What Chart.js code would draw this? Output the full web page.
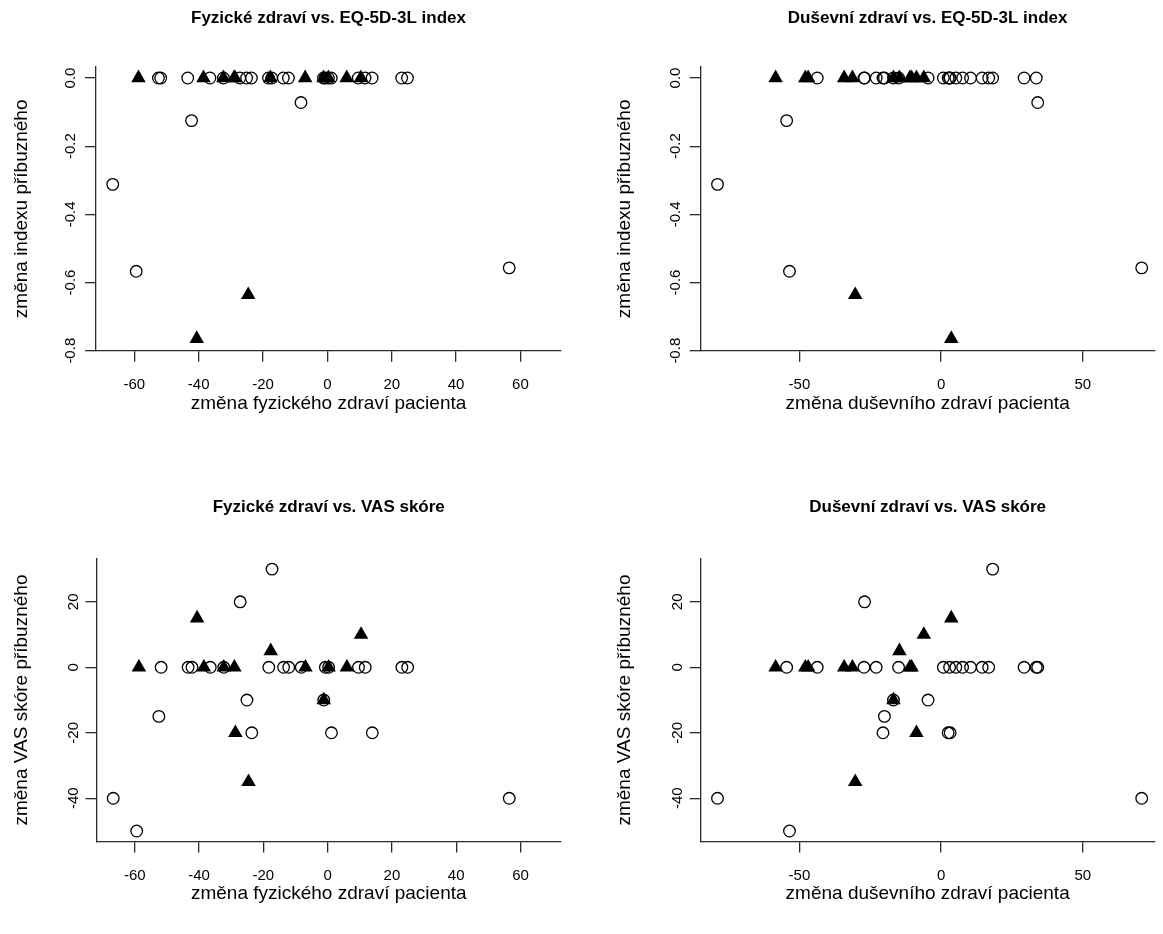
<!DOCTYPE html>
<html>
<head>
<meta charset="utf-8">
<script src="https://cdn.jsdelivr.net/npm/chart.js@4/dist/chart.umd.min.js"></script>
<style>
  html, body { margin: 0; padding: 0; background: #ffffff; }
  #page { position: relative; width: 1163px; height: 934px; overflow: hidden; background: #ffffff; }
  .panel { position: absolute; }
  canvas { display: block; }
</style>
</head>
<body>
<div id="page">
  <div class="panel" style="left:0px;top:0px;"><canvas id="p1" width="581" height="467"></canvas></div>
  <div class="panel" style="left:581px;top:0px;"><canvas id="p2" width="582" height="467"></canvas></div>
  <div class="panel" style="left:0px;top:467px;"><canvas id="p3" width="581" height="467"></canvas></div>
  <div class="panel" style="left:581px;top:467px;"><canvas id="p4" width="582" height="467"></canvas></div>
</div>
<script>
// Patients whose relative reported no treatment (open circles)
const circPhys   = [-66.7, -59.4, 56.5, -42.2, -8.2, -52.5, -27.2, -17.3, -25.1, -1.2, -23.6, 1.2, 13.9,
                    -51.8, -43.4, -36.5, -32.3, -18.3, -13.7, -12.1, -0.7, 0.3, 9.6, 11.7, 23.1, 24.9];
const circMental = [-78.9, -53.5, 70.8, -54.5, 34.1, -20.0, -27.0, 18.2, -16.8, -4.6, -20.5, 2.5, 3.2,
                    -43.7, -27.2, -22.9, -15.0, 0.8, 3.0, 5.2, 7.6, 10.4, 14.5, 16.8, 29.3, 33.6];
const circIndex  = [-0.312, -0.567, -0.557, -0.125, -0.072, 0, 0, 0, 0, 0, 0, 0, 0,
                    0, 0, 0, 0, 0, 0, 0, 0, 0, 0, 0, 0, 0];
const circVas    = [-40, -50, -40, 0, 0, -15, 20, 30, -10, -10, -20, -20, -20,
                    0, 0, 0, 0, 0, 0, 0, 0, 0, 0, 0, 0, 0];

// Second group (filled triangles)
const triPhys   = [-58.7, -40.6, -38.5, -32.3, -29.0, -28.7, -24.6, -17.7, -6.9, -1.2, 0.3, 6.0, 10.4];
const triMental = [-58.4, 3.6, -47.9, -46.9, -34.2, -8.7, -30.3, -14.7, -31.3, -16.8, -11.0, -10.4, -6.1];
const triIndex  = [0, -0.765, 0, 0, 0, 0, -0.636, 0, 0, 0, 0, 0, 0];
const triVas    = [0, 15, 0, 0, 0, -20, -35, 5, 0, -10, 0, 0, 10];

// Tick labels
const physTicks   = [-60, -40, -20, 0, 20, 40, 60];
const mentalTicks = [-50, 0, 50];
const indexTicks  = [-0.8, -0.6, -0.4, -0.2, 0.0];
const vasTicks    = [-40, -20, 0, 20];

// Texts
const panelTitles = [
  'Fyzické zdraví vs. EQ-5D-3L index',
  'Duševní zdraví vs. EQ-5D-3L index',
  'Fyzické zdraví vs. VAS skóre',
  'Duševní zdraví vs. VAS skóre'
];
const physLabel   = 'změna fyzického zdraví pacienta';
const mentalLabel = 'změna duševního zdraví pacienta';
const indexLabel  = 'změna indexu příbuzného';
const vasLabel    = 'změna VAS skóre příbuzného';

const FONT = "'Liberation Sans', Arial, Helvetica, sans-serif";
const INK = '#000000';
const AXIS = '#2b2b2b';

function points(xs, ys) {
  return xs.map((x, i) => ({ x: x, y: ys[i] }));
}

// box: plot-area edges inside the canvas; text: positions of the titles inside the canvas
function drawPanel(id, cfg) {
  const canvas = document.getElementById(id);
  const cw = canvas.width, ch = canvas.height;
  const titleSize = 17, labelSize = 19, tickSize = 15;
  const titleLH = titleSize * 1.2, labelLH = labelSize * 1.2;
  const tickLen = 11;
  const box = cfg.box;
  const yWidth = box.left;              // y-axis box fills the left margin
  const xHeight = ch - box.bottom;      // x-axis box fills the bottom margin
  const titleTop = cfg.titleY - titleLH / 2;

  new Chart(canvas, {
    type: 'scatter',
    data: {
      datasets: [
        {
          data: points(cfg.cx, cfg.cy),
          pointStyle: 'circle',
          pointRadius: 5.8,
          pointHoverRadius: 5.8,
          borderWidth: 1.3,
          borderColor: INK,
          backgroundColor: 'rgba(0,0,0,0)'
        },
        {
          data: points(cfg.tx, cfg.ty),
          pointStyle: 'triangle',
          pointRadius: 8.4,
          pointHoverRadius: 8.4,
          borderWidth: 0,
          borderColor: INK,
          backgroundColor: INK
        }
      ]
    },
    options: {
      responsive: false,
      animation: false,
      devicePixelRatio: 1,
      events: [],
      layout: { padding: { left: 0, top: 0, right: cw - box.right, bottom: 0 } },
      plugins: {
        legend: { display: false },
        tooltip: { enabled: false },
        title: {
          display: true,
          text: cfg.title,
          fullSize: false,
          color: INK,
          font: { family: FONT, size: titleSize, weight: 'bold' },
          padding: { top: titleTop, bottom: box.top - titleTop - titleLH }
        }
      },
      scales: {
        x: {
          type: 'linear',
          bounds: 'data',
          min: cfg.xMin,
          max: cfg.xMax,
          afterBuildTicks: s => { s.ticks = cfg.xTicks.map(v => ({ value: v })); },
          afterFit: s => { s.height = xHeight; },
          grid: { drawOnChartArea: false, drawTicks: true, tickLength: tickLen, color: AXIS, lineWidth: 1.3 },
          border: { display: true, color: AXIS, width: 1.3 },
          ticks: {
            color: INK,
            font: { family: FONT, size: tickSize },
            padding: cfg.xTickPad,
            maxRotation: 0,
            autoSkip: false,
            callback: v => String(v)
          },
          title: {
            display: true,
            text: cfg.xLabel,
            color: INK,
            font: { family: FONT, size: labelSize },
            padding: { top: 0, bottom: ch - cfg.xLabelY - labelLH / 2 }
          }
        },
        y: {
          type: 'linear',
          bounds: 'data',
          min: cfg.yMin,
          max: cfg.yMax,
          afterBuildTicks: s => { s.ticks = cfg.yTicks.map(v => ({ value: v })); },
          afterFit: s => { s.width = yWidth; },
          grid: { drawOnChartArea: false, drawTicks: true, tickLength: tickLen, color: AXIS, lineWidth: 1.3 },
          border: { display: true, color: AXIS, width: 1.3 },
          ticks: {
            color: INK,
            font: { family: FONT, size: tickSize },
            padding: cfg.yTickPad,
            minRotation: 90,
            maxRotation: 90,
            crossAlign: 'center',
            autoSkip: false,
            callback: cfg.yFormat
          },
          title: {
            display: true,
            text: cfg.yLabel,
            color: INK,
            font: { family: FONT, size: labelSize },
            padding: { top: cfg.yLabelX - labelLH / 2, bottom: 0 }
          }
        }
      }
    }
  });
}

const fmtIndex = v => Number(v).toFixed(1);
const fmtInt = v => String(v);

drawPanel('p1', {
  title: panelTitles[0], titleY: 18,
  box: { left: 96, right: 561, top: 67, bottom: 350.7 },
  xMin: -71.9, xMax: 72.6, xTicks: physTicks, xLabel: physLabel, xLabelY: 404, xTickPad: 14,
  yMin: -0.8, yMax: 0.0323, yTicks: indexTicks, yLabel: indexLabel, yLabelX: 22, yTickPad: 1, yFormat: fmtIndex,
  cx: circPhys, cy: circIndex, tx: triPhys, ty: triIndex
});

drawPanel('p2', {
  title: panelTitles[1], titleY: 18,
  box: { left: 119.7, right: 581, top: 67, bottom: 350.7 },
  xMin: -84.83, xMax: 75.35, xTicks: mentalTicks, xLabel: mentalLabel, xLabelY: 404, xTickPad: 14,
  yMin: -0.8, yMax: 0.0323, yTicks: indexTicks, yLabel: indexLabel, yLabelX: 44, yTickPad: 1, yFormat: fmtIndex,
  cx: circMental, cy: circIndex, tx: triMental, ty: triIndex
});

drawPanel('p3', {
  title: panelTitles[2], titleY: 40,
  box: { left: 96.5, right: 561, top: 91.6, bottom: 374.5 },
  xMin: -71.9, xMax: 72.6, xTicks: physTicks, xLabel: physLabel, xLabelY: 427, xTickPad: 14,
  yMin: -53.2, yMax: 33.2, yTicks: vasTicks, yLabel: vasLabel, yLabelX: 22, yTickPad: 1, yFormat: fmtInt,
  cx: circPhys, cy: circVas, tx: triPhys, ty: triVas
});

drawPanel('p4', {
  title: panelTitles[3], titleY: 40,
  box: { left: 119.7, right: 581, top: 91.6, bottom: 374.5 },
  xMin: -84.83, xMax: 75.35, xTicks: mentalTicks, xLabel: mentalLabel, xLabelY: 427, xTickPad: 14,
  yMin: -53.2, yMax: 33.2, yTicks: vasTicks, yLabel: vasLabel, yLabelX: 44, yTickPad: 1, yFormat: fmtInt,
  cx: circMental, cy: circVas, tx: triMental, ty: triVas
});
</script>
</body>
</html>
